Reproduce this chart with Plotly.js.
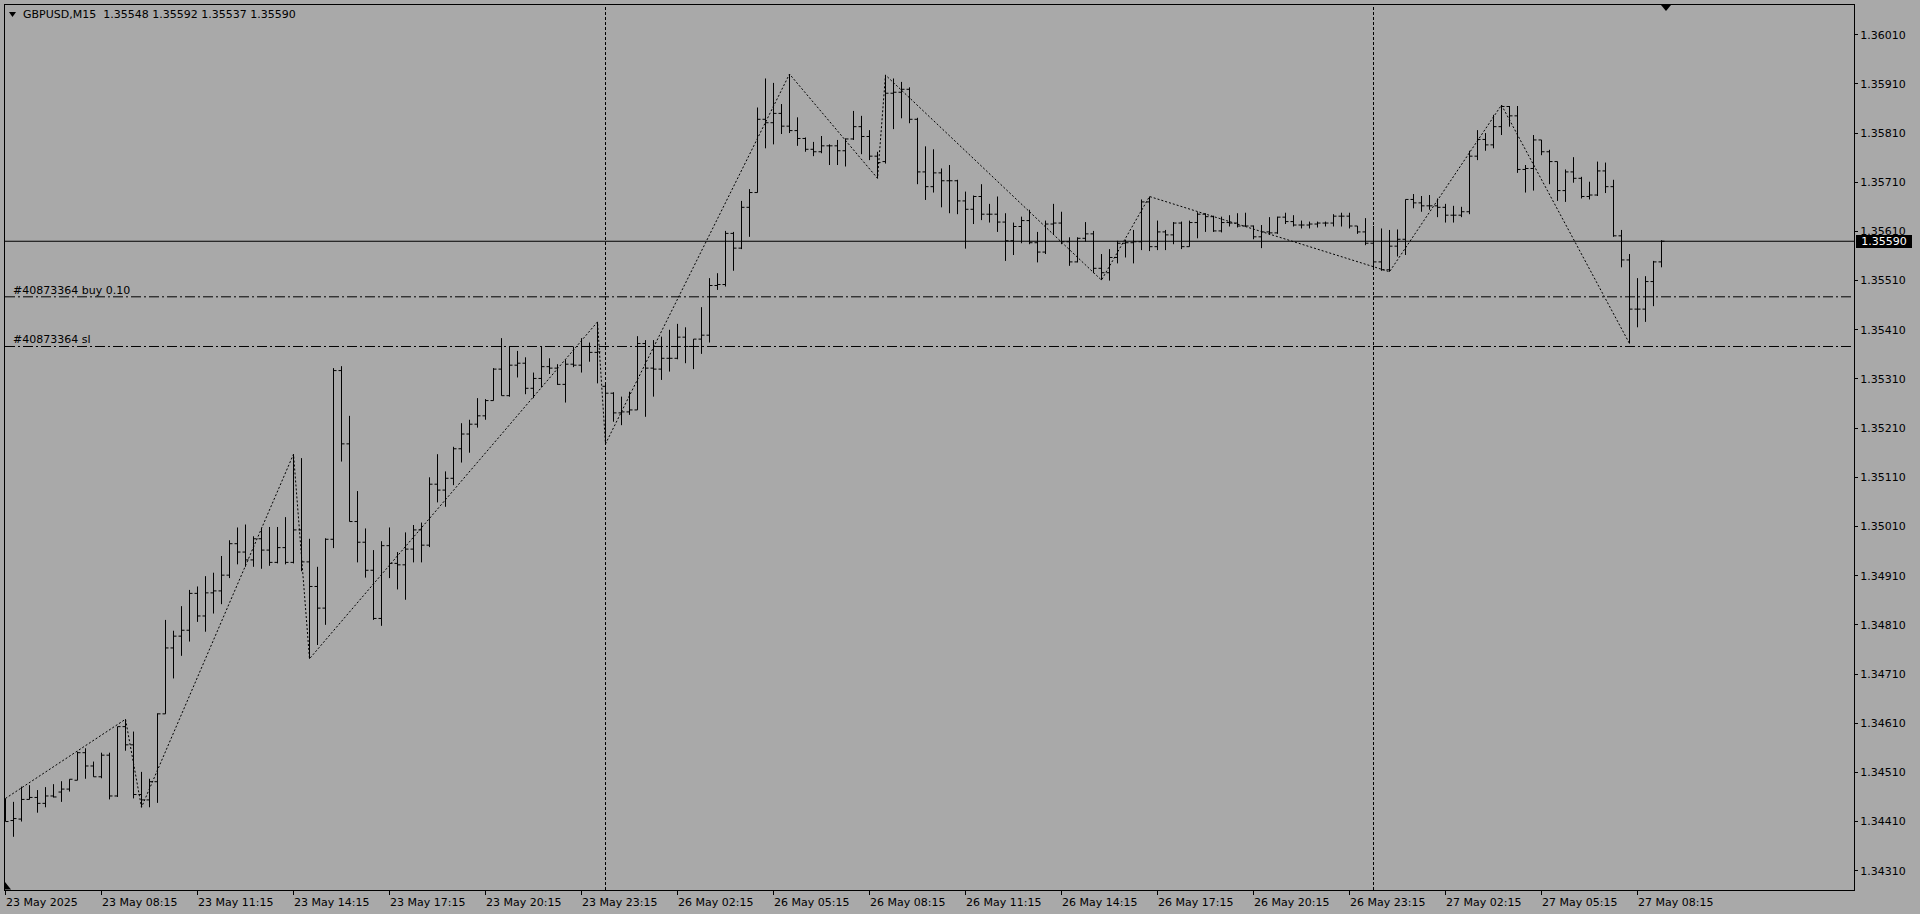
<!DOCTYPE html>
<html><head><meta charset="utf-8">
<script src="https://cdn.plot.ly/plotly-3.0.1.min.js"></script>
<style>html,body{margin:0;padding:0;background:#A9A9A9;overflow:hidden}#chart{width:1920px;height:914px}</style>
</head><body><div id="chart"></div>
<script>
// ---- data (GBPUSD M15, 23 May 05:15 -> 27 May 09:00) ----
const symbolTitle = 'GBPUSD,M15\u00a0\u00a01.35548 1.35592 1.35537 1.35590';
const openP = [1.34440,1.34412,1.34415,1.34455,1.34459,1.34447,1.34462,1.34470,1.34476,1.34494,
1.34550,1.34523,1.34501,1.34545,1.34462,1.34603,1.34566,1.34465,1.34454,1.34491,
1.34629,1.34763,1.34787,1.34799,1.34874,1.34828,1.34875,1.34879,1.34911,1.34975,
1.34958,1.34942,1.34985,1.34962,1.34937,1.34967,1.34937,1.35003,1.34938,1.34888,
1.34844,1.34984,1.35327,1.35178,1.35020,1.34978,1.34921,1.34823,1.34971,1.34935,
1.34932,1.34964,1.35003,1.34972,1.35096,1.35084,1.35108,1.35168,1.35198,1.35218,
1.35235,1.35266,1.35330,1.35276,1.35338,1.35342,1.35291,1.35311,1.35335,1.35332,
1.35299,1.35340,1.35338,1.35376,1.35364,1.35295,1.35281,1.35241,1.35243,1.35247,
1.35382,1.35332,1.35330,1.35352,1.35352,1.35395,1.35376,1.35391,1.35399,1.35500,
1.35502,1.35606,1.35576,1.35659,1.35689,1.35838,1.35831,1.35850,1.35824,1.35815,
1.35799,1.35777,1.35772,1.35784,1.35784,1.35774,1.35798,1.35823,1.35803,1.35763,
1.35752,1.35891,1.35893,1.35899,1.35838,1.35731,1.35701,1.35729,1.35713,1.35713,
1.35672,1.35655,1.35681,1.35645,1.35645,1.35629,1.35591,1.35620,1.35632,1.35587,
1.35568,1.35625,1.35627,1.35589,1.35548,1.35596,1.35605,1.35535,1.35526,1.35557,
1.35586,1.35587,1.35589,1.35670,1.35579,1.35609,1.35603,1.35627,1.35579,1.35628,
1.35645,1.35640,1.35611,1.35628,1.35627,1.35621,1.35621,1.35599,1.35609,1.35607,
1.35639,1.35630,1.35623,1.35623,1.35625,1.35627,1.35627,1.35641,1.35641,1.35621,
1.35609,1.35586,1.35548,1.35532,1.35580,1.35594,1.35675,1.35668,1.35662,1.35662,
1.35659,1.35643,1.35643,1.35650,1.35763,1.35797,1.35786,1.35823,1.35864,1.35845,
1.35736,1.35738,1.35796,1.35772,1.35752,1.35693,1.35731,1.35718,1.35681,1.35684,
1.35733,1.35701,1.35601,1.35552,1.35452,1.35452,1.35508,1.35548];
const highP = [1.34457,1.34450,1.34481,1.34484,1.34474,1.34480,1.34486,1.34492,1.34496,1.34552,
1.34559,1.34532,1.34550,1.34550,1.34603,1.34618,1.34593,1.34511,1.34497,1.34630,
1.34820,1.34798,1.34848,1.34881,1.34888,1.34909,1.34916,1.34950,1.34982,1.35008,
1.35014,1.34990,1.35008,1.35009,1.35009,1.35029,1.35157,1.35149,1.34985,1.34928,
1.34986,1.35332,1.35336,1.35235,1.35082,1.35006,1.34962,1.34980,1.35008,1.34958,
1.34998,1.35013,1.35018,1.35110,1.35157,1.35122,1.35172,1.35220,1.35227,1.35271,
1.35269,1.35332,1.35393,1.35376,1.35367,1.35354,1.35323,1.35376,1.35352,1.35340,
1.35349,1.35376,1.35393,1.35384,1.35426,1.35303,1.35283,1.35274,1.35284,1.35397,
1.35389,1.35389,1.35396,1.35410,1.35422,1.35415,1.35391,1.35456,1.35515,1.35525,
1.35611,1.35609,1.35672,1.35696,1.35862,1.35921,1.35912,1.35869,1.35930,1.35842,
1.35801,1.35792,1.35804,1.35787,1.35796,1.35799,1.35855,1.35845,1.35816,1.35772,
1.35928,1.35921,1.35914,1.35903,1.35841,1.35783,1.35777,1.35738,1.35745,1.35715,
1.35691,1.35683,1.35706,1.35666,1.35681,1.35647,1.35628,1.35640,1.35654,1.35609,
1.35632,1.35666,1.35650,1.35598,1.35598,1.35629,1.35611,1.35564,1.35574,1.35591,
1.35593,1.35613,1.35675,1.35681,1.35632,1.35613,1.35629,1.35630,1.35632,1.35649,
1.35647,1.35642,1.35640,1.35643,1.35647,1.35648,1.35622,1.35623,1.35639,1.35640,
1.35648,1.35643,1.35632,1.35630,1.35630,1.35630,1.35645,1.35648,1.35648,1.35621,
1.35637,1.35621,1.35616,1.35613,1.35614,1.35675,1.35686,1.35682,1.35684,1.35677,
1.35666,1.35662,1.35660,1.35774,1.35816,1.35810,1.35847,1.35867,1.35865,1.35865,
1.35745,1.35806,1.35796,1.35776,1.35752,1.35736,1.35761,1.35721,1.35711,1.35752,
1.35750,1.35715,1.35613,1.35564,1.35515,1.35519,1.35550,1.35592];
const lowP = [1.34410,1.34379,1.34410,1.34455,1.34428,1.34439,1.34459,1.34450,1.34471,1.34494,
1.34497,1.34501,1.34498,1.34455,1.34460,1.34554,1.34457,1.34439,1.34439,1.34448,
1.34629,1.34701,1.34747,1.34776,1.34816,1.34796,1.34833,1.34852,1.34905,1.34933,
1.34928,1.34928,1.34924,1.34930,1.34935,1.34933,1.34935,1.34919,1.34741,1.34769,
1.34810,1.34966,1.35142,1.35020,1.34937,1.34906,1.34820,1.34808,1.34905,1.34882,
1.34861,1.34937,1.34937,1.34968,1.35059,1.35050,1.35094,1.35140,1.35160,1.35211,
1.35227,1.35266,1.35276,1.35274,1.35313,1.35279,1.35271,1.35293,1.35320,1.35298,
1.35262,1.35334,1.35323,1.35345,1.35301,1.35178,1.35223,1.35216,1.35237,1.35247,
1.35233,1.35274,1.35308,1.35325,1.35350,1.35342,1.35330,1.35361,1.35384,1.35491,
1.35498,1.35530,1.35574,1.35599,1.35689,1.35779,1.35787,1.35808,1.35810,1.35784,
1.35772,1.35763,1.35769,1.35745,1.35745,1.35742,1.35796,1.35767,1.35755,1.35718,
1.35748,1.35818,1.35840,1.35830,1.35706,1.35674,1.35689,1.35659,1.35647,1.35645,
1.35575,1.35625,1.35633,1.35628,1.35609,1.35550,1.35562,1.35586,1.35584,1.35547,
1.35564,1.35604,1.35584,1.35540,1.35547,1.35589,1.35525,1.35511,1.35510,1.35545,
1.35557,1.35545,1.35572,1.35570,1.35572,1.35572,1.35584,1.35574,1.35579,1.35596,
1.35609,1.35609,1.35608,1.35620,1.35618,1.35620,1.35594,1.35576,1.35603,1.35605,
1.35625,1.35620,1.35616,1.35616,1.35618,1.35620,1.35620,1.35620,1.35616,1.35605,
1.35582,1.35535,1.35530,1.35528,1.35559,1.35562,1.35657,1.35650,1.35654,1.35639,
1.35628,1.35628,1.35639,1.35645,1.35755,1.35774,1.35779,1.35806,1.35823,1.35729,
1.35689,1.35693,1.35765,1.35706,1.35672,1.35670,1.35709,1.35677,1.35675,1.35682,
1.35688,1.35599,1.35537,1.35382,1.35415,1.35426,1.35458,1.35537];
const closeP = [1.34410,1.34416,1.34455,1.34459,1.34447,1.34462,1.34460,1.34476,1.34496,1.34550,
1.34523,1.34501,1.34545,1.34462,1.34603,1.34566,1.34465,1.34454,1.34491,1.34629,
1.34763,1.34787,1.34799,1.34874,1.34828,1.34875,1.34879,1.34911,1.34975,1.34958,
1.34942,1.34985,1.34962,1.34937,1.34967,1.34937,1.35003,1.34938,1.34888,1.34844,
1.34984,1.35327,1.35178,1.35020,1.34978,1.34921,1.34823,1.34971,1.34935,1.34932,
1.34964,1.35003,1.34972,1.35096,1.35084,1.35108,1.35168,1.35198,1.35218,1.35235,
1.35266,1.35330,1.35276,1.35338,1.35342,1.35291,1.35311,1.35335,1.35332,1.35299,
1.35340,1.35338,1.35376,1.35364,1.35365,1.35281,1.35241,1.35243,1.35247,1.35382,
1.35332,1.35330,1.35352,1.35352,1.35395,1.35376,1.35391,1.35399,1.35500,1.35502,
1.35606,1.35576,1.35659,1.35689,1.35838,1.35831,1.35850,1.35824,1.35815,1.35799,
1.35777,1.35772,1.35784,1.35784,1.35774,1.35798,1.35823,1.35803,1.35763,1.35750,
1.35891,1.35893,1.35899,1.35838,1.35731,1.35701,1.35729,1.35713,1.35713,1.35672,
1.35655,1.35681,1.35645,1.35645,1.35629,1.35591,1.35620,1.35632,1.35587,1.35568,
1.35625,1.35627,1.35589,1.35548,1.35596,1.35605,1.35535,1.35526,1.35557,1.35586,
1.35587,1.35589,1.35670,1.35579,1.35609,1.35603,1.35627,1.35579,1.35628,1.35645,
1.35640,1.35611,1.35628,1.35627,1.35621,1.35621,1.35599,1.35609,1.35607,1.35639,
1.35630,1.35623,1.35623,1.35625,1.35627,1.35627,1.35641,1.35641,1.35621,1.35609,
1.35586,1.35548,1.35532,1.35580,1.35594,1.35675,1.35668,1.35662,1.35662,1.35659,
1.35643,1.35643,1.35650,1.35763,1.35797,1.35786,1.35823,1.35864,1.35845,1.35736,
1.35738,1.35796,1.35772,1.35752,1.35693,1.35731,1.35718,1.35681,1.35684,1.35733,
1.35701,1.35601,1.35552,1.35452,1.35452,1.35508,1.35548,1.35590];

// ZigZag pivots: bar index and whether the pivot is the bar's high or low
const zzIdx  = [0, 15, 17, 36, 38, 74, 75, 98, 109, 110, 137, 143, 173, 187, 203];
const zzKind = ['H','H','L','H','L','H','L','H','L','H','L','H','L','H','L'];

// day separators (bar index of 00:00)
const sepIdx = [75, 171];

// horizontal levels
const lastPrice  = 1.35590;
const orderPrice = 1.35477;
const slPrice    = 1.35376;
const orderLabel = '#40873364 buy 0.10';
const slLabel    = '#40873364 sl';

// axis ticks
const xTickIdx = [0,12,24,36,48,60,72,84,96,108,120,132,144,156,168,180,192,204];
const xTickLabels = ['23 May 2025','23 May 08:15','23 May 11:15','23 May 14:15','23 May 17:15',
  '23 May 20:15','23 May 23:15','26 May 02:15','26 May 05:15','26 May 08:15','26 May 11:15',
  '26 May 14:15','26 May 17:15','26 May 20:15','26 May 23:15','27 May 02:15','27 May 05:15','27 May 08:15'];
const yTicks = [1.34310,1.34410,1.34510,1.34610,1.34710,1.34810,1.34910,1.35010,1.35110,
  1.35210,1.35310,1.35410,1.35510,1.35610,1.35710,1.35810,1.35910,1.36010];

// ---- chart ----
const FONT = 'DejaVu Sans';
const barIdx = openP.map((_, i) => i);
const zzY = zzIdx.map((b, k) => zzKind[k] === 'H' ? highP[b] : lowP[b]);

const traces = [
  {
    type: 'ohlc', x: barIdx, open: openP, high: highP, low: lowP, close: closeP,
    increasing: {line: {color: '#000000', width: 1}},
    decreasing: {line: {color: '#000000', width: 1}},
    tickwidth: 0.375, hoverinfo: 'skip', showlegend: false
  },
  {
    type: 'scatter', mode: 'lines', x: zzIdx, y: zzY,
    line: {color: '#000000', width: 1, dash: '2px,2px'},
    hoverinfo: 'skip', showlegend: false
  }
];

const shapes = [];
sepIdx.forEach(b => shapes.push({type: 'line', xref: 'x', yref: 'paper', x0: b, x1: b, y0: 0, y1: 1,
  line: {color: '#000000', width: 1, dash: '3px,2px'}}));
shapes.push({type: 'line', xref: 'paper', yref: 'y', x0: 0, x1: 1, y0: lastPrice, y1: lastPrice,
  line: {color: '#000000', width: 1}});
[orderPrice, slPrice].forEach(p => shapes.push({type: 'line', xref: 'paper', yref: 'y', x0: 0, x1: 1, y0: p, y1: p,
  line: {color: '#000000', width: 1, dash: '10px,3px,2px,3px'}}));
// small markers (title arrow, chart-shift triangles)
shapes.push({type: 'path', xref: 'paper', yref: 'paper', path: 'M 0.00216 0.99209 L 0.00595 0.99209 L 0.00406 0.98644 Z',
  fillcolor: '#000000', line: {width: 0}});
shapes.push({type: 'path', xref: 'paper', yref: 'paper', path: 'M 0.89562 1 L 0.90103 1 L 0.89832 0.99322 Z',
  fillcolor: '#000000', line: {width: 0}});
shapes.push({type: 'path', xref: 'paper', yref: 'paper', path: 'M 0 0.00904 L 0 0.0006 L 0.00325 0.0006 Z',
  fillcolor: '#000000', line: {width: 0}});

const annFont = {family: FONT, size: 11, color: '#000000'};
const annotations = [];
annotations.push({xref: 'paper', yref: 'paper', x: 0.0099, y: 0.98904, xanchor: 'left', yanchor: 'middle',
  text: symbolTitle, showarrow: false, font: annFont, borderpad: 0, borderwidth: 0});
annotations.push({xref: 'paper', yref: 'y', x: 0.0045, y: orderPrice, yshift: 6.5, xanchor: 'left', yanchor: 'middle',
  text: orderLabel, showarrow: false, font: annFont, borderpad: 0, borderwidth: 0});
annotations.push({xref: 'paper', yref: 'y', x: 0.0045, y: slPrice, yshift: 6.5, xanchor: 'left', yanchor: 'middle',
  text: slLabel, showarrow: false, font: annFont, borderpad: 0, borderwidth: 0});
xTickIdx.forEach((b, k) => annotations.push({xref: 'x', yref: 'paper', x: b, y: 0, yshift: -12.7,
  xanchor: 'left', yanchor: 'middle', text: xTickLabels[k], showarrow: false, font: annFont,
  borderpad: 0, borderwidth: 0}));
annotations.push({xref: 'paper', yref: 'y', x: 1, y: lastPrice, xshift: 2, xanchor: 'left', yanchor: 'middle',
  text: lastPrice.toFixed(5), showarrow: false, font: {family: FONT, size: 11, color: '#ffffff'},
  bgcolor: '#000000', borderpad: 0, borderwidth: 0, width: 56, height: 13, align: 'center'});

const layout = {
  width: 1920, height: 914,
  paper_bgcolor: '#A9A9A9', plot_bgcolor: '#A9A9A9',
  margin: {l: 5, r: 66, t: 5, b: 24, pad: 0},
  showlegend: false, hovermode: false,
  font: {family: FONT, size: 11, color: '#000000'},
  xaxis: {
    range: [-0.0625, 231.0625], tickvals: xTickIdx, showticklabels: false,
    ticks: 'outside', ticklen: 4, tickcolor: '#000000', tickwidth: 1,
    showgrid: false, zeroline: false, showline: true, linecolor: '#000000', linewidth: 1, mirror: true,
    rangeslider: {visible: false}, automargin: false, fixedrange: true
  },
  yaxis: {
    side: 'right', range: [1.342708, 1.360704],
    tickvals: yTicks, ticktext: yTicks.map(v => v.toFixed(5)),
    ticks: 'outside', ticklen: 3, tickcolor: '#000000', tickwidth: 1,
    tickfont: {family: FONT, size: 11, color: '#000000'},
    showgrid: false, zeroline: false, showline: true, linecolor: '#000000', linewidth: 1, mirror: true,
    automargin: false, fixedrange: true
  },
  shapes: shapes,
  annotations: annotations
};

Plotly.newPlot('chart', traces, layout, {staticPlot: true, displayModeBar: false});
</script>
</body></html>
